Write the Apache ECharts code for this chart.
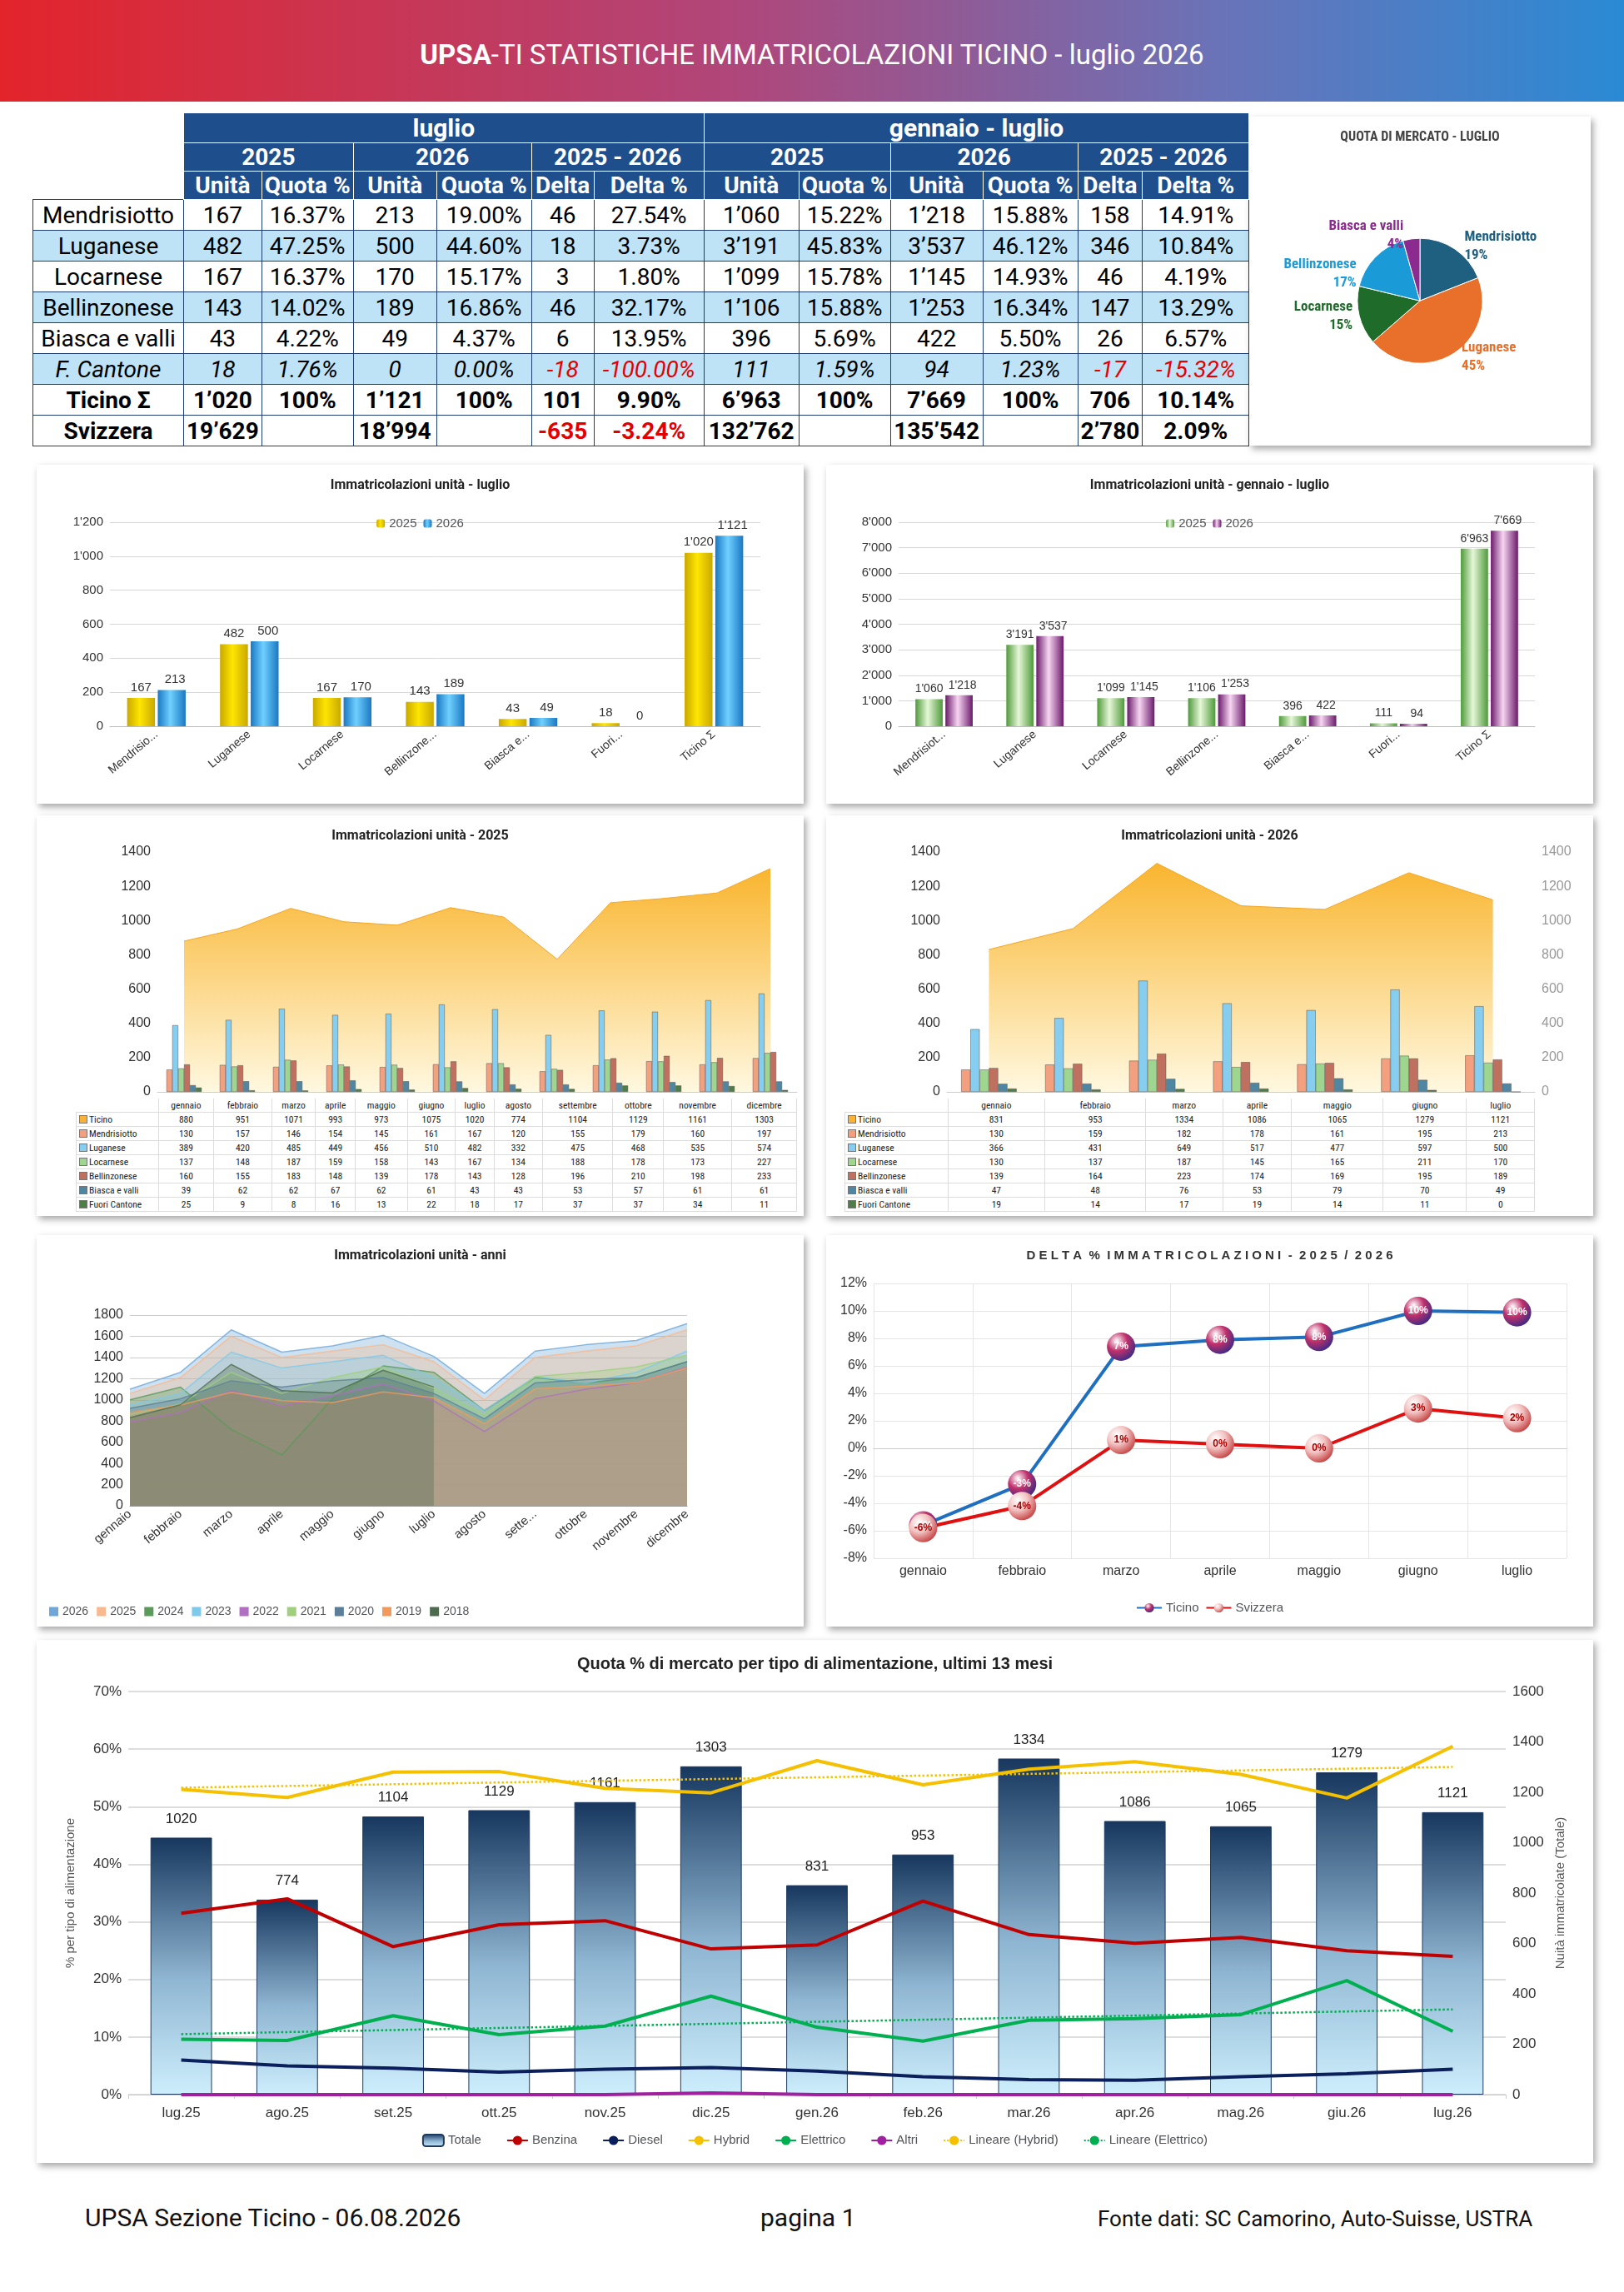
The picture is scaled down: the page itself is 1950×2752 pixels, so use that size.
<!DOCTYPE html>
<html>
<head>
<meta charset="utf-8">
<script src="https://cdn.jsdelivr.net/npm/echarts@6/dist/echarts.min.js"></script>
<style>
  body { margin:0; width:1950px; height:2752px; background:#fff; font-family:Roboto, "Noto Sans", sans-serif; position:relative; overflow:hidden; }
  .header { position:absolute; left:0; top:0; width:1950px; height:122px; background:linear-gradient(90deg,#e3242b 0%,#b0467a 45%,#6a73b8 75%,#2a8ad4 100%); color:#fff; font-size:33px; text-align:center; line-height:132px; }
  .panel { position:absolute; background:#fff; box-shadow:3px 4px 8px rgba(0,0,0,0.35); }
  .chart { position:absolute; left:0; top:0; }
  table.main { position:absolute; left:39px; top:135px; border-collapse:collapse; font-size:28px; }
  table.main td { border:1.5px solid #1f3f6e; text-align:center; height:36px; padding:0 3px; white-space:nowrap; }
  table.main tr.h td { background:#1f4e8c; color:#fff; font-weight:bold; border-color:#fff; height:32px; }
  table.main tr.h td.e { background:#fff; border:none; }
  table.main tr.b td { background:#bfe3f6; }
  table.main .red { color:#e30000; }
  table.dt { position:absolute; border-collapse:collapse; font-size:11.5px; font-family:"Roboto Condensed", Roboto, sans-serif; color:#222; }
  table.dt td { border:1.5px solid #ddd; text-align:center; height:16px; padding:0; }
  table.dt td.l { text-align:left; padding-left:3px; }
  table.dt tr.hd td { border-top:none; }
  .sq { display:inline-block; width:8px; height:8px; border:1px solid #777; margin-right:2px; vertical-align:-1px; }
  .foot { position:absolute; top:2645px; font-size:30px; color:#111; }
</style>
</head>
<body>
<div class="header"><b>UPSA</b>-TI STATISTICHE IMMATRICOLAZIONI TICINO - luglio 2026</div>

<table class="main" id="mainTable"></table>

<div class="panel" style="left:1500px;top:140px;width:410px;height:395px"><div id="cPie" class="chart" style="width:410px;height:395px"></div></div>
<div class="panel" style="left:44px;top:558px;width:921px;height:407px"><div id="cLug" class="chart" style="width:921px;height:407px"></div></div>
<div class="panel" style="left:992px;top:558px;width:921px;height:407px"><div id="cGen" class="chart" style="width:921px;height:407px"></div></div>
<div class="panel" style="left:44px;top:979px;width:921px;height:481px"><div id="c25" class="chart" style="width:921px;height:340px"></div><table class="dt" id="t25" style="left:47px;top:340px;width:866px"></table></div>
<div class="panel" style="left:992px;top:979px;width:921px;height:481px"><div id="c26" class="chart" style="width:921px;height:340px"></div><table class="dt" id="t26" style="left:22px;top:340px;width:829px"></table></div>
<div class="panel" style="left:44px;top:1483px;width:921px;height:470px"><div id="cAnni" class="chart" style="width:921px;height:470px"></div></div>
<div class="panel" style="left:992px;top:1483px;width:921px;height:470px"><div id="cDelta" class="chart" style="width:921px;height:470px"></div></div>
<div class="panel" style="left:44px;top:1969px;width:1869px;height:628px"><div id="cAlim" class="chart" style="width:1869px;height:628px"></div></div>

<div class="foot" style="left:102px">UPSA Sezione Ticino - 06.08.2026</div>
<div class="foot" style="left:913px">pagina 1</div>
<div class="foot" style="left:1318px;font-size:26px;top:2649px">Fonte dati: SC Camorino, Auto-Suisse, USTRA</div>

<script>
// ---- dati tabella principale ----
var regions = ['Mendrisiotto', 'Luganese', 'Locarnese', 'Bellinzonese', 'Biasca e valli', 'F. Cantone', 'Ticino Σ', 'Svizzera'];
var tabRows = [
  ['167','16.37%','213','19.00%','46','27.54%','1’060','15.22%','1’218','15.88%','158','14.91%'],
  ['482','47.25%','500','44.60%','18','3.73%','3’191','45.83%','3’537','46.12%','346','10.84%'],
  ['167','16.37%','170','15.17%','3','1.80%','1’099','15.78%','1’145','14.93%','46','4.19%'],
  ['143','14.02%','189','16.86%','46','32.17%','1’106','15.88%','1’253','16.34%','147','13.29%'],
  ['43','4.22%','49','4.37%','6','13.95%','396','5.69%','422','5.50%','26','6.57%'],
  ['18','1.76%','0','0.00%','-18','-100.00%','111','1.59%','94','1.23%','-17','-15.32%'],
  ['1’020','100%','1’121','100%','101','9.90%','6’963','100%','7’669','100%','706','10.14%'],
  ['19’629','','18’994','','-635','-3.24%','132’762','','135’542','','2’780','2.09%']
];
var colW = [181, 93, 109, 100, 114, 75, 132, 114, 109, 111, 114, 70, 128];

// ---- dati grafici luglio / gennaio-luglio ----
var catsShort = ['Mendrisio...', 'Luganese', 'Locarnese', 'Bellinzone...', 'Biasca e...', 'Fuori...', 'Ticino Σ'];
var catsShort2 = ['Mendrisiot...', 'Luganese', 'Locarnese', 'Bellinzone...', 'Biasca e...', 'Fuori...', 'Ticino Σ'];
var lug25 = [167, 482, 167, 143, 43, 18, 1020];
var lug26 = [213, 500, 170, 189, 49, 0, 1121];
var gen25 = [1060, 3191, 1099, 1106, 396, 111, 6963];
var gen26 = [1218, 3537, 1145, 1253, 422, 94, 7669];

// ---- quota di mercato luglio ----
var pieNames = ['Mendrisiotto', 'Luganese', 'Locarnese', 'Bellinzonese', 'Biasca e valli'];
var pieVals = [213, 500, 170, 189, 49];

// ---- mensili ----
var mesi = ['gennaio','febbraio','marzo','aprile','maggio','giugno','luglio','agosto','settembre','ottobre','novembre','dicembre'];
var serNames = ['Ticino','Mendrisiotto','Luganese','Locarnese','Bellinzonese','Biasca e valli','Fuori Cantone'];
var m25 = [
  [880,951,1071,993,973,1075,1020,774,1104,1129,1161,1303],
  [130,157,146,154,145,161,167,120,155,179,160,197],
  [389,420,485,449,456,510,482,332,475,468,535,574],
  [137,148,187,159,158,143,167,134,188,178,173,227],
  [160,155,183,148,139,178,143,128,196,210,198,233],
  [39,62,62,67,62,61,43,43,53,57,61,61],
  [25,9,8,16,13,22,18,17,37,37,34,11]
];
var m26 = [
  [831,953,1334,1086,1065,1279,1121],
  [130,159,182,178,161,195,213],
  [366,431,649,517,477,597,500],
  [130,137,187,145,165,211,170],
  [139,164,223,174,169,195,189],
  [47,48,76,53,79,70,49],
  [19,14,17,19,14,11,0]
];
var serColors = ['#f9b233','#f4a07f','#86cdef','#9fd68f','#c0705e','#4f87a3','#4e7d48'];

// ---- anni ----
var anni = ['2026','2025','2024','2023','2022','2021','2020','2019','2018'];
var anniColors = ['#4f6b4f','#f29a5c','#5b7f99','#9fcf7f','#b06fc0','#7fc9ea','#5a9a5a','#f7b98f','#6fa8d8'];
var anniVals = [
  [831,953,1334,1086,1065,1279,1121,null,null,null,null,null],
  [880,951,1071,993,973,1075,1020,774,1104,1129,1161,1303],
  [920,1010,1180,1120,1180,1210,1060,820,1160,1190,1210,1360],
  [860,960,1260,1060,1210,1310,1110,860,1220,1260,1310,1420],
  [790,880,1090,940,1040,1150,990,700,1010,1100,1160,1310],
  [950,1060,1450,1300,1360,1420,1210,900,1220,1160,1260,1460],
  [1000,1120,720,480,1010,1320,1260,900,1210,1160,1210,1360],
  [1060,1210,1600,1400,1460,1520,1360,1000,1400,1460,1510,1660],
  [1100,1260,1660,1450,1510,1610,1410,1060,1460,1520,1560,1720]
];

// ---- delta % ----
var mesi7 = ['gennaio','febbraio','marzo','aprile','maggio','giugno','luglio'];
var deltaTi = [-5.6, -2.6, 7.4, 7.9, 8.1, 10.0, 9.9];
var deltaCh = [-5.8, -4.2, 0.6, 0.3, 0.0, 2.9, 2.2];

// ---- alimentazione ultimi 13 mesi ----
var mesi13 = ['lug.25','ago.25','set.25','ott.25','nov.25','dic.25','gen.26','feb.26','mar.26','apr.26','mag.26','giu.26','lug.26'];
var totale = [1020, 774, 1104, 1129, 1161, 1303, 831, 953, 1334, 1086, 1065, 1279, 1121];
var benzina = [31.5, 34.0, 25.7, 29.5, 30.2, 25.3, 26.0, 33.6, 27.8, 26.3, 27.3, 25.0, 24.0];
var diesel = [6.0, 5.0, 4.6, 3.9, 4.4, 4.7, 4.1, 3.1, 2.6, 2.5, 3.1, 3.6, 4.4];
var hybrid = [53.0, 51.6, 56.0, 56.1, 53.2, 52.4, 58.0, 53.8, 56.5, 57.8, 55.6, 51.5, 60.5];
var elettrico = [9.6, 9.4, 13.7, 10.4, 11.9, 17.1, 11.7, 9.3, 12.9, 13.2, 13.9, 19.8, 11.0];
var altri = [0, 0, 0, 0, 0, 0.3, 0, 0, 0, 0, 0, 0, 0];
var linHybrid = [53.3, null, null, null, null, null, null, null, null, null, null, null, 56.9];
var linElett = [10.5, null, null, null, null, null, null, null, null, null, null, null, 14.8];

function ap(v) { return String(v).replace(/\B(?=(\d{3})+(?!\d))/g, "'"); }
function plain(v) { return String(v); }

// tabella principale
(function () {
  var h = '<colgroup>' + colW.map(function (w) { return '<col style="width:' + w + 'px">'; }).join('') + '</colgroup>';
  h += '<tr class="h"><td class="e"></td><td colspan="6" style="font-size:30px">luglio</td><td colspan="6" style="font-size:30px">gennaio - luglio</td></tr>';
  h += '<tr class="h"><td class="e"></td><td colspan="2">2025</td><td colspan="2">2026</td><td colspan="2">2025 - 2026</td><td colspan="2">2025</td><td colspan="2">2026</td><td colspan="2">2025 - 2026</td></tr>';
  h += '<tr class="h"><td class="e"></td>' + ['Unità','Quota %','Unità','Quota %','Delta','Delta %','Unità','Quota %','Unità','Quota %','Delta','Delta %'].map(function (t) { return '<td>' + t + '</td>'; }).join('') + '</tr>';
  var blue = [1, 3, 5];
  tabRows.forEach(function (r, i) {
    var st = i === 5 ? 'font-style:italic;' : (i >= 6 ? 'font-weight:bold;' : '');
    h += '<tr class="' + (blue.indexOf(i) >= 0 ? 'b' : '') + '" style="' + st + '"><td>' + regions[i] + '</td>';
    r.forEach(function (c) { h += '<td class="' + (c.charAt(0) === '-' ? 'red' : '') + '">' + c + '</td>'; });
    h += '</tr>';
  });
  document.getElementById('mainTable').innerHTML = h;
})();

// tabelle dati mensili
function dataTable(id, cats, rows, labW) {
  var h = '<tr class="hd"><td style="border:none;width:' + labW + 'px"></td>' + cats.map(function (c) { return '<td>' + c + '</td>'; }).join('') + '</tr>';
  rows.forEach(function (r, i) {
    h += '<tr><td class="l"><span class="sq" style="background:' + serColors[i] + '"></span>' + serNames[i] + '</td>';
    r.forEach(function (v) { h += '<td>' + v + '</td>'; });
    h += '</tr>';
  });
  document.getElementById(id).innerHTML = h;
}
dataTable('t25', mesi, m25, 98);
dataTable('t26', mesi7, m26, 123);

var titleStyle = { fontSize: 16, fontWeight: 'bold', color: '#222', fontFamily: 'Roboto' };

function cyl(c1, c2) {
  return new echarts.graphic.LinearGradient(0, 0, 1, 0, [{ offset: 0, color: c2 }, { offset: 0.45, color: c1 }, { offset: 1, color: c2 }]);
}

// torta
echarts.init(document.getElementById('cPie')).setOption({
  title: { text: 'QUOTA DI MERCATO - LUGLIO', left: 'center', top: 12, textStyle: { fontSize: 16, fontWeight: 'bold', color: '#444', fontFamily: 'Roboto Condensed, Roboto' } },
  series: [{
    type: 'pie', radius: ['0%', '38%'], center: ['50%', '56%'], startAngle: 90,
    data: pieNames.map(function (n, i) { return { name: n, value: pieVals[i] }; }),
    color: ['#1f5f80', '#e8702a', '#1e6b2a', '#1a9ad6', '#8b2a8f'],
    itemStyle: { borderColor: '#fff', borderWidth: 1 },
    label: { formatter: function (p) { return p.name + '\n' + Math.round(p.percent) + '%'; }, fontSize: 17, fontWeight: 'bold', color: 'inherit', fontFamily: 'Roboto Condensed, Roboto', lineHeight: 22, overflow: 'none' },
    labelLine: { show: false, length: 4, length2: 4 }
  }]
});

function barChart(id, title, cats, a, b, ca, cb, max, step, leftG, rightG, lf) {
  echarts.init(document.getElementById(id)).setOption({
    title: { text: title, left: 'center', top: 12, textStyle: titleStyle },
    legend: { top: 58, left: 'center', itemWidth: 10, itemHeight: 10, textStyle: { fontSize: 15 }, data: ['2025', '2026'] },
    grid: { left: leftG, right: rightG, top: 69, bottom: 93 },
    xAxis: { type: 'category', data: cats, axisLabel: { rotate: 40, fontSize: 14, color: '#333', interval: 0 }, axisTick: { show: false }, axisLine: { lineStyle: { color: '#bbb' } } },
    yAxis: { type: 'value', min: 0, max: max, interval: step, axisLabel: { fontSize: 15, color: '#333', formatter: ap }, splitLine: { lineStyle: { color: '#d8d8d8' } } },
    series: [
      { name: '2025', type: 'bar', data: a, barWidth: '30%', barGap: '10%', itemStyle: { color: cyl(ca[0], ca[1]) }, label: { show: true, position: 'top', fontSize: lf, color: '#333', formatter: function (p) { return ap(p.value); } } },
      { name: '2026', type: 'bar', data: b, barWidth: '30%', itemStyle: { color: cyl(cb[0], cb[1]) }, label: { show: true, position: 'top', fontSize: lf, color: '#333', offset: [4, 0], formatter: function (p) { return ap(p.value); } } }
    ]
  });
}
barChart('cLug', 'Immatricolazioni unità - luglio', catsShort, lug25, lug26, ['#ffe600', '#c9a800'], ['#6fd0ff', '#1a78c2'], 1200, 200, 88, 52, 15);
barChart('cGen', 'Immatricolazioni unità - gennaio - luglio', catsShort2, gen25, gen26, ['#e6f7d8', '#4f9a3a'], ['#f7d6f2', '#6a1a6a'], 8000, 1000, 87, 70, 14);

function monthChart(id, title, cats, rows, rightAxis, rightG) {
  var series = [{
    name: serNames[0], type: 'line', data: rows[0], symbol: 'none', lineStyle: { width: 1, color: '#f5a623' },
    areaStyle: { color: new echarts.graphic.LinearGradient(0, 0, 0, 1, [{ offset: 0, color: '#f9b52e' }, { offset: 1, color: '#fff8e0' }]), opacity: 1 }, z: 1
  }];
  for (var i = 1; i < rows.length; i++) {
    series.push({ name: serNames[i], type: 'bar', data: rows[i], barWidth: '11%', barGap: '0%', itemStyle: { color: serColors[i], borderColor: '#555', borderWidth: 0.5 }, z: 2 });
  }
  var yAx = [{ type: 'value', min: 0, max: 1400, interval: 200, axisLabel: { fontSize: 16, color: '#333', formatter: plain }, splitLine: { show: false } }];
  if (rightAxis) yAx.push({ type: 'value', min: 0, max: 1400, interval: 200, axisLabel: { fontSize: 16, color: '#999', formatter: plain }, splitLine: { show: false } });
  echarts.init(document.getElementById(id)).setOption({
    title: { text: title, left: 'center', top: 12, textStyle: titleStyle },
    grid: { left: 145, right: rightG, top: 44, bottom: 3 },
    xAxis: { type: 'category', data: cats, axisLabel: { show: false }, axisTick: { show: false }, axisLine: { lineStyle: { color: '#ccc' } } },
    yAxis: yAx,
    series: series
  });
}
monthChart('c25', 'Immatricolazioni unità - 2025', mesi, m25, false, 8);
monthChart('c26', 'Immatricolazioni unità - 2026', mesi7, m26, true, 70);

// anni (superfici sovrapposte)
var anniSeries = [];
for (var k = anni.length - 1; k >= 0; k--) {
  anniSeries.push({
    name: anni[k], type: 'line', data: anniVals[k], symbol: 'none',
    lineStyle: { width: 1.5, color: anniColors[k], opacity: 0.8 },
    areaStyle: { color: anniColors[k], opacity: 0.35 }
  });
}
echarts.init(document.getElementById('cAnni')).setOption({
  title: { text: 'Immatricolazioni unità - anni', left: 'center', top: 12, textStyle: titleStyle },
  legend: { bottom: 6, left: 10, icon: 'rect', itemWidth: 11, itemHeight: 11, itemGap: 10, textStyle: { fontSize: 14 }, data: anni },
  color: anniColors,
  grid: { left: 112, right: 140, top: 96, bottom: 145 },
  xAxis: { type: 'category', data: mesi, boundaryGap: false, axisLabel: { rotate: 40, fontSize: 15, color: '#333', interval: 0, formatter: function (v) { return v.length > 8 ? v.slice(0, 5) + '...' : v; } }, axisTick: { show: false }, axisLine: { lineStyle: { color: '#999' } } },
  yAxis: { type: 'value', min: 0, max: 1800, interval: 200, axisLabel: { fontSize: 16, color: '#333', formatter: plain }, splitLine: { lineStyle: { color: '#ccc' } } },
  series: anniSeries
});

// delta %
function ball(c1, c2) {
  return new echarts.graphic.RadialGradient(0.35, 0.3, 0.8, [{ offset: 0, color: '#fff' }, { offset: 0.45, color: c1 }, { offset: 1, color: c2 }]);
}
echarts.init(document.getElementById('cDelta')).setOption({
  title: { text: 'D E L T A  %  I M M A T R I C O L A Z I O N I  -  2 0 2 5  /  2 0 2 6', left: 'center', top: 12, textStyle: { fontSize: 15, fontWeight: 'bold', color: '#333' } },
  legend: { bottom: 10, left: 'center', itemWidth: 30, textStyle: { fontSize: 15 }, data: ['Ticino', 'Svizzera'] },
  grid: { left: 57, right: 32, top: 58, bottom: 82 },
  xAxis: { type: 'category', data: mesi7, axisLabel: { fontSize: 16, color: '#333' }, axisTick: { show: false }, axisLine: { lineStyle: { color: '#ccc' } }, splitLine: { show: true, lineStyle: { color: '#e5e5e5' } } },
  yAxis: { type: 'value', min: -8, max: 12, interval: 2, axisLabel: { fontSize: 16, color: '#333', formatter: '{value}%' }, splitLine: { lineStyle: { color: '#e5e5e5' } } },
  series: [
    { name: 'Ticino', type: 'line', data: deltaTi, color: '#1f6fc0', lineStyle: { width: 4, color: '#1f6fc0' }, symbol: 'circle', symbolSize: 34,
      itemStyle: { color: ball('#c0306a', '#2a2a8a') },
      label: { show: true, position: 'inside', fontSize: 12, fontWeight: 'bold', color: '#fff', formatter: function (p) { return Math.round(p.value) + '%'; } } },
    { name: 'Svizzera', type: 'line', data: deltaCh, color: '#e01010', lineStyle: { width: 4, color: '#e01010' }, symbol: 'circle', symbolSize: 34,
      itemStyle: { color: ball('#f2c0c0', '#c03030') },
      label: { show: true, position: 'inside', fontSize: 12, fontWeight: 'bold', color: '#a00', formatter: function (p) { return Math.round(p.value) + '%'; } } }
  ]
});

// alimentazione
echarts.init(document.getElementById('cAlim')).setOption({
  title: { text: 'Quota % di mercato per tipo di alimentazione, ultimi 13 mesi', left: 'center', top: 14, textStyle: { fontSize: 20, fontWeight: 'bold', color: '#222' } },
  legend: { bottom: 14, left: 'center', itemGap: 30, textStyle: { fontSize: 15 }, data: ['Totale', 'Benzina', 'Diesel', 'Hybrid', 'Elettrico', 'Altri', 'Lineare (Hybrid)', 'Lineare (Elettrico)'] },
  grid: { left: 110, right: 105, top: 62, bottom: 82 },
  xAxis: { type: 'category', data: mesi13, axisLabel: { fontSize: 17, color: '#333', margin: 14 }, axisTick: { show: true, lineStyle: { color: '#ccc' } }, axisLine: { lineStyle: { color: '#ccc' } } },
  yAxis: [
    { type: 'value', min: 0, max: 70, interval: 10, name: '% per tipo di alimentazione', nameLocation: 'middle', nameGap: 62, nameTextStyle: { fontSize: 15, color: '#555' }, axisLabel: { fontSize: 17, color: '#333', formatter: '{value}%' }, splitLine: { lineStyle: { color: '#ddd', width: 2 } } },
    { type: 'value', min: 0, max: 1600, interval: 200, name: 'Nuità immatricolate (Totale)', nameLocation: 'middle', nameGap: 58, nameRotate: 90, nameTextStyle: { fontSize: 15, color: '#555' }, axisLabel: { fontSize: 17, color: '#333', formatter: plain }, splitLine: { show: false } }
  ],
  series: [
    { name: 'Totale', type: 'bar', yAxisIndex: 1, data: totale, barWidth: '58%',
      itemStyle: { color: new echarts.graphic.LinearGradient(0, 0, 0, 1, [{ offset: 0, color: '#17375e' }, { offset: 0.55, color: '#8fb6d2' }, { offset: 1, color: '#cdeefc' }]), borderColor: '#1f3a5f', borderWidth: 1 },
      label: { show: true, position: 'top', fontSize: 17, color: '#222', distance: 14 } },
    { name: 'Benzina', type: 'line', data: benzina, symbol: 'none', color: '#c00000', lineStyle: { width: 4 } },
    { name: 'Diesel', type: 'line', data: diesel, symbol: 'none', color: '#0b1f5c', lineStyle: { width: 4 } },
    { name: 'Hybrid', type: 'line', data: hybrid, symbol: 'none', color: '#f5c000', lineStyle: { width: 4 } },
    { name: 'Elettrico', type: 'line', data: elettrico, symbol: 'none', color: '#00b050', lineStyle: { width: 4 } },
    { name: 'Altri', type: 'line', data: altri, symbol: 'none', color: '#a020a0', lineStyle: { width: 4 } },
    { name: 'Lineare (Hybrid)', type: 'line', data: linHybrid, connectNulls: true, symbol: 'none', color: '#f5c000', lineStyle: { width: 2.5, type: 'dotted' } },
    { name: 'Lineare (Elettrico)', type: 'line', data: linElett, connectNulls: true, symbol: 'none', color: '#00b050', lineStyle: { width: 2.5, type: 'dotted' } }
  ]
});
</script>
</body>
</html>
